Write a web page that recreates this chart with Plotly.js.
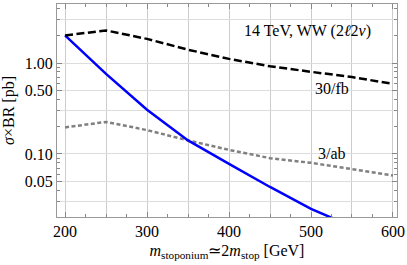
<!DOCTYPE html>
<html>
<head>
<meta charset="utf-8">
<script src="https://cdn.plot.ly/plotly-3.0.1.min.js"></script>
<style>html,body{margin:0;padding:0;background:#fff;}#chart{width:407px;height:265px;}</style>
</head>
<body>
<div id="chart"></div>
<script>
const mass = [200, 250, 300, 350, 400, 450, 500, 550, 600];
const sigma30fb = [2.01, 2.28, 1.84, 1.40, 1.11, 0.92, 0.80, 0.70, 0.59];
const sigma3ab = [0.196, 0.225, 0.183, 0.141, 0.111, 0.090, 0.080, 0.068, 0.058];
const massTheory = [200, 250, 300, 350, 400, 450, 500, 550];
const sigmaTheory = [2.01, 0.76, 0.307, 0.141, 0.078, 0.0434, 0.0249, 0.016];

const xLabelVals = [200, 300, 400, 500, 600];
const xLabelText = ['200', '300', '400', '500', '600'];
const xGridVals = [200, 250, 300, 350, 400, 450, 500, 550, 600];
const yLabelVals = [0.05, 0.1, 0.5, 1];
const yLabelText = ['0.05', '0.10', '0.50', '1.00'];
const yGridVals = [0.03, 0.05, 0.1, 0.3, 0.5, 1, 3];
const yMinorVals = [0.02,0.03,0.04,0.06,0.07,0.08,0.09,0.2,0.3,0.4,0.6,0.7,0.8,0.9,2,3,4];

const serif = "'Liberation Serif', 'Times New Roman', serif";
const xRange = [190.2, 604.9];
const yRange = [Math.log10(0.0203), Math.log10(4.45)];

const traces = [
  {x: [], y: [], xaxis: 'x2', yaxis: 'y2', mode: 'lines', hoverinfo: 'skip'},
  {x: mass, y: sigma3ab, mode: 'lines', line: {color: '#808080', width: 2.5, dash: '4px,2.5px'}, hoverinfo: 'skip'},
  {x: massTheory, y: sigmaTheory, mode: 'lines', line: {color: '#0000ff', width: 2.5}, hoverinfo: 'skip'},
  {x: mass, y: sigma30fb, mode: 'lines', line: {color: '#000000', width: 2.5, dash: '8px,3.5px'}, hoverinfo: 'skip'}
];

const layout = {
  width: 407, height: 265,
  margin: {l: 57, r: 10, t: 4, b: 48},
  paper_bgcolor: '#ffffff', plot_bgcolor: '#ffffff',
  showlegend: false,
  font: {family: serif, size: 16, color: '#000'},
  xaxis: {
    range: xRange,
    tickmode: 'array', tickvals: xLabelVals, ticktext: xLabelText,
    ticks: 'inside', ticklen: 5, tickcolor: '#888', tickwidth: 1,
    showgrid: false,
    showline: true, linecolor: '#999', linewidth: 1, mirror: 'allticks',
    zeroline: false,
    minor: {tickmode: 'linear', tick0: 200, dtick: 25, ticks: 'inside', ticklen: 3, tickcolor: '#888', showgrid: false},
    tickfont: {family: serif, size: 16, color: '#000'},
    title: {text: '<i>m</i><sub>stoponium</sub>≃2<i>m</i><sub>stop</sub> [GeV]', font: {family: serif, size: 16, color: '#000'}, standoff: 5},
    automargin: false
  },
  xaxis2: {
    overlaying: 'x', anchor: 'y', range: xRange,
    tickmode: 'array', tickvals: xGridVals, showticklabels: false, ticks: '',
    showgrid: true, gridcolor: '#cccccc', gridwidth: 1, zeroline: false, showline: false
  },
  yaxis: {
    type: 'log',
    range: yRange,
    tickmode: 'array', tickvals: yLabelVals, ticktext: yLabelText,
    ticks: 'inside', ticklen: 5, tickcolor: '#888', tickwidth: 1,
    showgrid: false,
    showline: true, linecolor: '#999', linewidth: 1, mirror: 'allticks',
    zeroline: false,
    minor: {tickmode: 'array', tickvals: yMinorVals, ticks: 'inside', ticklen: 3, tickcolor: '#888', showgrid: false},
    tickfont: {family: serif, size: 16, color: '#000'},
    title: {text: '<i>σ</i>×BR [pb]', font: {family: serif, size: 16, color: '#000'}, standoff: 8},
    automargin: false
  },
  yaxis2: {
    type: 'log', overlaying: 'y', anchor: 'x', range: yRange,
    tickmode: 'array', tickvals: yGridVals, showticklabels: false, ticks: '',
    showgrid: true, gridcolor: '#dddddd', gridwidth: 1, zeroline: false, showline: false
  },
  annotations: [
    {xref: 'paper', yref: 'paper', x: 0.736, y: 0.871, xanchor: 'center', yanchor: 'middle', text: '14 TeV, WW (2<i>ℓ</i>2<i>ν</i>)', showarrow: false, font: {family: serif, size: 16, color: '#000'}},
    {xref: 'paper', yref: 'paper', x: 0.809, y: 0.601, xanchor: 'center', yanchor: 'middle', text: '30/fb', showarrow: false, font: {family: serif, size: 16, color: '#000'}},
    {xref: 'paper', yref: 'paper', x: 0.809, y: 0.298, xanchor: 'center', yanchor: 'middle', text: '3/ab', showarrow: false, font: {family: serif, size: 16, color: '#000'}}
  ]
};

Plotly.newPlot('chart', traces, layout, {staticPlot: true, displayModeBar: false});
</script>
</body>
</html>
